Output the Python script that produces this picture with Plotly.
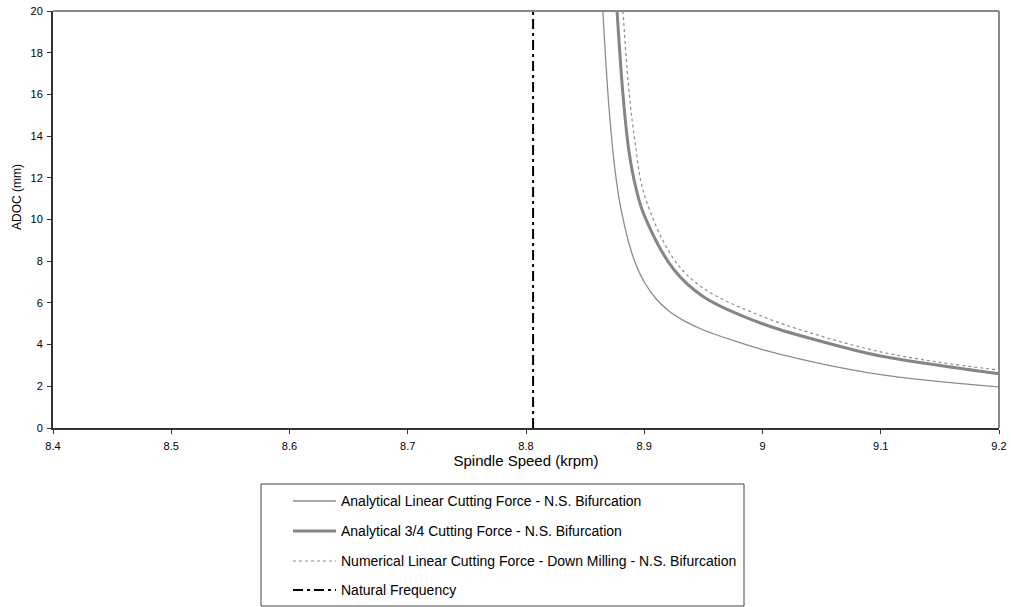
import plotly.graph_objects as go

# Stability boundary data (spindle speed in krpm, axial depth of cut in mm)
linear_speed = [8.865, 8.870, 8.875, 8.880, 8.890, 8.900, 8.910, 8.920, 8.935, 8.950,
                8.975, 9.000, 9.050, 9.100, 9.150, 9.200]
linear_adoc = [20.0, 15.5, 12.5, 10.6, 8.3, 7.0, 6.2, 5.65, 5.1, 4.7,
               4.2, 3.76, 3.08, 2.56, 2.22, 1.97]

three_quarter_speed = [8.877, 8.882, 8.887, 8.893, 8.900, 8.925, 8.950, 9.000, 9.050, 9.100, 9.150, 9.200]
three_quarter_adoc = [20.0, 16.0, 13.3, 11.5, 10.2, 7.6, 6.3, 5.0, 4.15, 3.45, 3.0, 2.6]

numerical_speed = [8.882, 8.887, 8.892, 8.900, 8.925, 8.950, 9.000, 9.050, 9.100, 9.150, 9.200]
numerical_adoc = [20.0, 16.2, 13.8, 11.2, 8.1, 6.7, 5.35, 4.4, 3.65, 3.15, 2.78]

natural_frequency = 8.806
adoc_limits = [0, 20]
speed_limits = [8.4, 9.2]

x_ticks = [8.4, 8.5, 8.6, 8.7, 8.8, 8.9, 9.0, 9.1, 9.2]
x_tick_text = ["8.4", "8.5", "8.6", "8.7", "8.8", "8.9", "9", "9.1", "9.2"]
y_ticks = [0, 2, 4, 6, 8, 10, 12, 14, 16, 18, 20]

series_names = [
    "Analytical Linear Cutting Force - N.S. Bifurcation",
    "Analytical 3/4 Cutting Force - N.S. Bifurcation",
    "Numerical Linear Cutting Force - Down Milling - N.S. Bifurcation",
    "Natural Frequency",
]
series_lines = [
    dict(color="#8c8c8c", width=1.3),
    dict(color="#858585", width=3),
    dict(color="#8c8c8c", width=1.2, dash="3px,3px"),
    dict(color="black", width=2, dash="10px,4px,3px,4px"),
]

FONT = "Liberation Sans, Arial, sans-serif"

# plot area in pixels: used to place the legend block below the axes
W, H = 1011, 607
L, R, T, B = 53, 12, 11, 179
PW, PH = W - L - R, H - T - B


def px_x(p):
    return (p - L) / PW


def px_y(p):
    return (H - B - p) / PH


fig = go.Figure()
fig.add_trace(go.Scatter(x=linear_speed, y=linear_adoc, mode="lines",
                         line_shape="spline", line=series_lines[0], name=series_names[0]))
fig.add_trace(go.Scatter(x=three_quarter_speed, y=three_quarter_adoc, mode="lines",
                         line_shape="spline", line=series_lines[1], name=series_names[1]))
fig.add_trace(go.Scatter(x=numerical_speed, y=numerical_adoc, mode="lines",
                         line_shape="spline", line=series_lines[2], name=series_names[2]))
fig.add_trace(go.Scatter(x=[natural_frequency, natural_frequency], y=adoc_limits, mode="lines",
                         line=series_lines[3], name=series_names[3]))

# gray frame on the top and right sides of the plot area
fig.add_shape(type="line", xref="paper", yref="paper", x0=0, x1=1, y0=1, y1=1,
              line=dict(color="#888888", width=2))
fig.add_shape(type="line", xref="paper", yref="paper", x0=1, x1=1, y0=0, y1=1,
              line=dict(color="#888888", width=2))

# boxed legend under the chart
fig.add_shape(type="rect", xref="paper", yref="paper",
              x0=px_x(261), x1=px_x(744), y0=px_y(484), y1=px_y(606),
              line=dict(color="#444444", width=1), fillcolor="white")
row_y = [501, 531, 561, 590]
for name, style, ry in zip(series_names, series_lines, row_y):
    fig.add_shape(type="line", xref="paper", yref="paper",
                  x0=px_x(293), x1=px_x(336), y0=px_y(ry), y1=px_y(ry), line=style)
    fig.add_annotation(text=name, xref="paper", yref="paper",
                       x=px_x(339), y=px_y(ry), xanchor="left", yanchor="middle",
                       showarrow=False, font=dict(family=FONT, size=14, color="black"))

# vertical axis title
fig.add_annotation(text="ADOC (mm)", xref="paper", yref="paper",
                   x=px_x(17), y=px_y(197), xanchor="center", yanchor="middle",
                   textangle=-90, showarrow=False,
                   font=dict(family=FONT, size=12, color="black"))

fig.update_layout(
    width=W, height=H,
    margin=dict(l=L, r=R, t=T, b=B),
    paper_bgcolor="white", plot_bgcolor="white",
    font=dict(family=FONT, color="black", size=11),
    showlegend=False,
    xaxis=dict(
        range=speed_limits, tickvals=x_ticks, ticktext=x_tick_text,
        showgrid=False, zeroline=False, automargin=False,
        showline=True, linecolor="#333333", linewidth=2,
        ticks="outside", ticklen=4, tickcolor="#333333",
        tickfont=dict(size=11), ticklabelstandoff=3,
        title=dict(text="Spindle Speed (krpm)", font=dict(size=15), standoff=4),
    ),
    yaxis=dict(
        range=adoc_limits, tickvals=y_ticks,
        showgrid=False, zeroline=False, automargin=False,
        showline=True, linecolor="#333333", linewidth=2,
        ticks="outside", ticklen=4, tickcolor="#333333",
        tickfont=dict(size=11), ticklabelstandoff=2,
    ),
)

fig.write_html("out.html")
